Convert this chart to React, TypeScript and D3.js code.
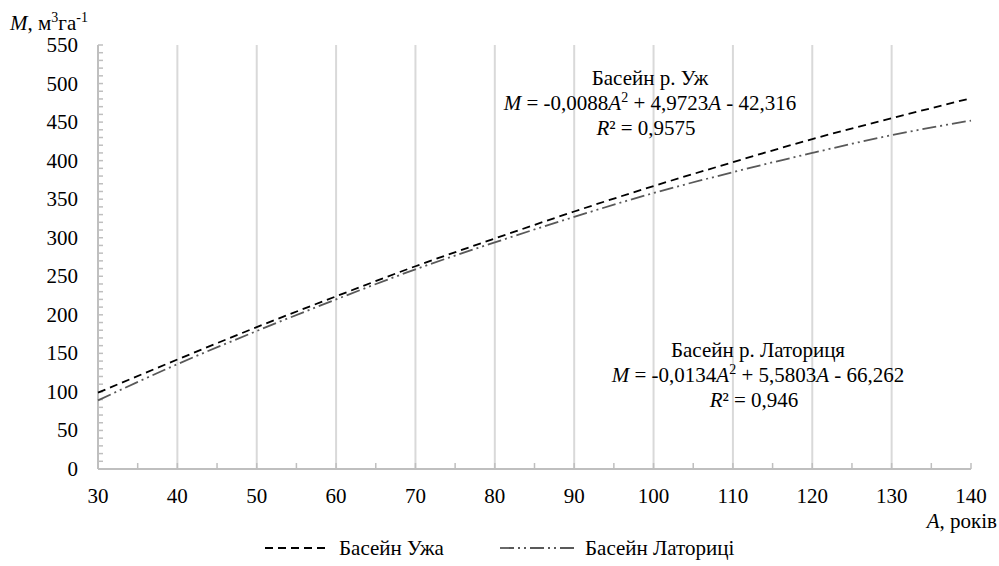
import * as d3 from "d3";

// вік, років
const ages = [30, 40, 50, 60, 70, 80, 90, 100, 110, 120, 130, 140];
// запас, м3/га
const uzh = [99, 142, 184, 224, 263, 299, 334, 367, 398, 428, 455, 481];
const latorytsia = [89, 136, 179, 220, 259, 294, 327, 358, 385, 410, 433, 452];

const xTicks = [30, 40, 50, 60, 70, 80, 90, 100, 110, 120, 130, 140];
const yTicks = [0, 50, 100, 150, 200, 250, 300, 350, 400, 450, 500, 550];

const FONT = "Liberation Serif";
const txt = { fontFamily: FONT, fontSize: 21 };
const it = { fontFamily: FONT, fontSize: 21, fontStyle: "italic" as const };
const sup = { fontFamily: FONT, fontSize: 14 };

const x = d3.scaleLinear().domain([30, 140]).range([98, 971]);
const y = d3.scaleLinear().domain([0, 550]).range([469, 45]);
const axisColor = "#bfbfbf";

const line = d3.line<number>()
  .x((_, i) => x(ages[i]))
  .y(d => y(d))
  .curve(d3.curveMonotoneX);

function Equation({ cx, by, title, a, b, c, r2 }: { cx: number; by: number; title: string; a: string; b: string; c: string; r2: string }) {
  return (
    <g>
      <text x={cx} y={by} textAnchor="middle" fontFamily={FONT} style={txt}>{title}</text>
      <text x={cx} y={by + 25} textAnchor="middle" fontFamily={FONT} style={txt}>
        <tspan style={it}>M</tspan>
        <tspan style={txt}>{` = ${a}`}</tspan>
        <tspan style={it}>A</tspan>
        <tspan dy={-8} style={sup}>2</tspan>
        <tspan dy={8} style={txt}>{` + ${b}`}</tspan>
        <tspan style={it}>A</tspan>
        <tspan style={txt}>{` - ${c}`}</tspan>
      </text>
      <text x={cx - 4} y={by + 50} textAnchor="middle" fontFamily={FONT} style={txt}>
        <tspan style={it}>R</tspan>
        <tspan style={txt}>{`² = ${r2}`}</tspan>
      </text>
    </g>
  );
}

export default function App() {
  return (
    <svg width={999} height={566} style={{ position: "absolute", left: 0, top: 0, background: "#fff" }}>
      {/* вертикальна сітка */}
      {xTicks.filter(t => t > 30 && t < 140).map(t => (
        <line key={`g${t}`} x1={x(t)} x2={x(t)} y1={y(550)} y2={y(0)} stroke="#d9d9d9" strokeWidth={2} />
      ))}

      {/* вісь Y */}
      {d3.range(0, 551, 10).map(v => (
        <line key={`ym${v}`} x1={x(30)} x2={x(30) + 5} y1={y(v)} y2={y(v)} stroke={axisColor} strokeWidth={1.5} />
      ))}
      <line x1={x(30)} x2={x(30)} y1={y(550)} y2={y(0)} stroke={axisColor} strokeWidth={2} />

      {/* вісь X */}
      {d3.range(35, 141, 5).map(v => (
        <line key={`xm${v}`} x1={x(v)} x2={x(v)} y1={y(0)} y2={y(0) - 6} stroke={axisColor} strokeWidth={1.5} />
      ))}
      <line x1={x(30)} x2={x(140)} y1={y(0)} y2={y(0)} stroke={axisColor} strokeWidth={2} />

      {yTicks.map(t => (
        <text key={`yt${t}`} x={78} y={y(t) + 7} textAnchor="end" fontFamily={FONT} style={txt}>{t}</text>
      ))}
      {xTicks.map(t => (
        <text key={`xt${t}`} x={x(t)} y={503} textAnchor="middle" fontFamily={FONT} style={txt}>{t}</text>
      ))}

      {/* назви осей */}
      <text x={10} y={30} fontFamily={FONT} style={txt}>
        <tspan style={it}>M</tspan>
        <tspan style={txt}>, м</tspan>
        <tspan dy={-8} style={sup}>3</tspan>
        <tspan dy={8} style={txt}>га</tspan>
        <tspan dy={-8} style={sup}>-1</tspan>
      </text>
      <text x={997} y={528} textAnchor="end" fontFamily={FONT} style={txt}>
        <tspan style={it}>A</tspan>
        <tspan style={txt}>, років</tspan>
      </text>

      {/* лінії */}
      <path d={line(latorytsia) ?? ""} fill="none" stroke="#595959" strokeWidth={1.8} strokeDasharray="14 4 2 4 2 4" />
      <path d={line(uzh) ?? ""} fill="none" stroke="#000" strokeWidth={1.8} strokeDasharray="8 5" />

      <Equation cx={650} by={85} title="Басейн р. Уж" a="-0,0088" b="4,9723" c="42,316" r2="0,9575" />
      <Equation cx={758} by={357} title="Басейн р. Латориця" a="-0,0134" b="5,5803" c="66,262" r2="0,946" />

      {/* легенда */}
      <line x1={265} x2={330} y1={548} y2={548} stroke="#000" strokeWidth={1.8} strokeDasharray="8 5" />
      <text x={339} y={555} fontFamily={FONT} style={txt}>Басейн Ужа</text>
      <line x1={500} x2={577} y1={548} y2={548} stroke="#595959" strokeWidth={1.8} strokeDasharray="14 4 2 4 2 4" />
      <text x={585} y={555} fontFamily={FONT} style={txt}>Басейн Латориці</text>
    </svg>
  );
}
